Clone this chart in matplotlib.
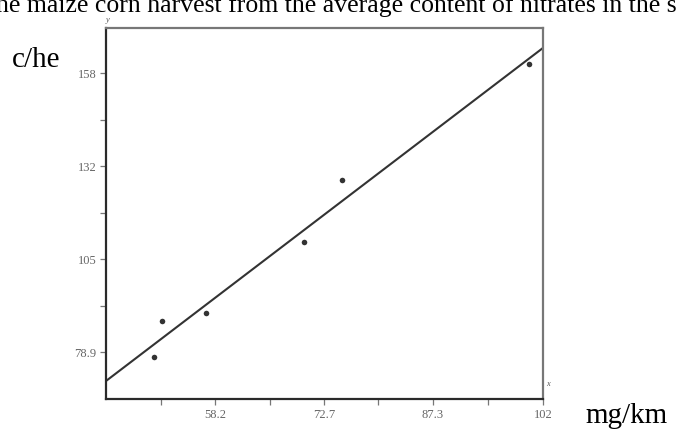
import numpy as np
import matplotlib.pyplot as plt

# nitrate content [mg/km] vs maize harvest [c/he]
nitrate = [50.0, 51.1, 57.0, 70.1, 75.1, 100.1]
harvest = [77.6, 87.8, 90.1, 110.2, 127.8, 160.9]

x_ticks = [58.2, 72.7, 87.3, 102]
x_tick_labels = ["58.2", "72.7", "87.3", "102"]
x_minor = [50.9, 65.45, 80.0, 94.65]
y_ticks = [78.9, 105.3, 131.7, 158.1]
y_tick_labels = ["78.9", "105", "132", "158"]
y_minor = [92.1, 118.5, 144.9]

xlim = (43.6, 102)
ylim = (65.7, 171)

# least squares line through the points
slope, icpt = np.polyfit(nitrate, harvest, 1)
xl = np.array(xlim)

fig = plt.figure(figsize=(6.76, 4.30), dpi=100)
ax = fig.add_axes([106 / 676, 31 / 430, 437 / 676, 371 / 430])

ax.plot(xl, slope * xl + icpt, color="#333333", lw=1.5, solid_capstyle="butt")
ax.plot(nitrate, harvest, "o", color="#333333", ms=4, mec="none")

ax.set_xlim(*xlim)
ax.set_ylim(*ylim)
ax.set_xticks(x_ticks)
ax.set_xticklabels(x_tick_labels)
ax.set_xticks(x_minor, minor=True)
ax.set_yticks(y_ticks)
ax.set_yticklabels(y_tick_labels)
ax.set_yticks(y_minor, minor=True)

ax.tick_params(which="both", direction="out", length=4, width=0.9,
               color="#777777", labelsize=9, labelcolor="#666666", pad=3)
for lab in ax.get_xticklabels() + ax.get_yticklabels():
    lab.set_family("Liberation Serif")

for side in ["left", "bottom"]:
    ax.spines[side].set_color("#2a2a2a")
    ax.spines[side].set_linewidth(1.6)
for side in ["top", "right"]:
    ax.spines[side].set_color("#777777")
    ax.spines[side].set_linewidth(1.6)

# tiny axis names drawn by the original plotting program
ax.text(0.0, 1.012, "y", transform=ax.transAxes, fontsize=6, style="italic",
        color="#555555", ha="left", va="bottom", family="Liberation Serif")
ax.text(1.008, 0.03, "x", transform=ax.transAxes, fontsize=6, style="italic",
        color="#555555", ha="left", va="bottom", family="Liberation Serif")

# units and the cut-off caption of the page
fig.text(12 / 676, 1 - 67 / 430, "c/he", fontsize=21, family="Liberation Serif",
         ha="left", va="baseline")
fig.text(585 / 676, 1 - 423 / 430, "mg/km", fontsize=21, family="Liberation Serif",
         ha="left", va="baseline")
fig.text(-4 / 676, 1 - 12 / 430,
         "he maize corn harvest from the average content of nitrates in the soil",
         fontsize=18.5, family="Liberation Serif", ha="left", va="baseline")

fig.savefig("out.png", dpi=100)
